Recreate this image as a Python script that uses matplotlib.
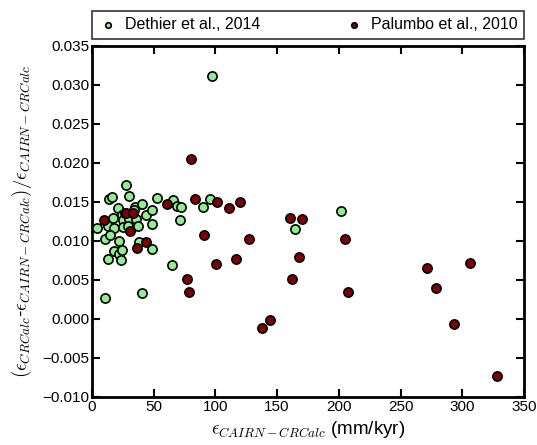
import matplotlib
matplotlib.use("Agg")
import matplotlib.pyplot as plt

plt.rcParams['font.family'] = ['Liberation Sans', 'DejaVu Sans']
plt.rcParams['mathtext.fontset'] = 'cm'

dethier_x = [3.8, 10.5, 13.2, 16.8, 14.0, 16.2, 17.8, 14.6, 22.1, 12.7,
             18.1, 22.1, 23.3, 24.6, 27.3, 30.2, 21.3, 24.1, 25.4, 26.7,
             25.4, 30.2, 32.2, 29.4, 34.8, 34.3, 35.7, 37.5, 40.3, 43.8,
             48.4, 48.9, 38.3, 48.4, 40.8, 10.5, 52.4, 65.4, 68.6, 71.9,
             71.3, 64.6, 89.7, 95.6, 97.0, 164.3, 202.0]
dethier_y = [0.0116, 0.0102, 0.0119, 0.0129, 0.0154, 0.0156, 0.0116, 0.0108, 0.0100, 0.0077,
             0.0087, 0.0083, 0.0076, 0.0088, 0.0172, 0.0158, 0.0142, 0.0133, 0.0127, 0.0136,
             0.0118, 0.0128, 0.0118, 0.0119, 0.0144, 0.0140, 0.0128, 0.0119, 0.0147, 0.0133,
             0.0140, 0.0122, 0.0099, 0.0090, 0.0033, 0.0027, 0.0155, 0.0153, 0.0145, 0.0143,
             0.0127, 0.0069, 0.0144, 0.0154, 0.0311, 0.0115, 0.0138]

palumbo_x = [10.0, 27.3, 33.5, 30.8, 36.2, 43.5, 61.0, 80.2, 83.5, 90.8,
             101.1, 111.0, 120.3, 100.5, 116.7, 76.7, 78.6, 127.5, 160.5, 170.4,
             205.3, 168.0, 162.1, 207.1, 138.0, 144.5, 271.2, 279.0, 293.1, 305.8,
             328.4]
palumbo_y = [0.0127, 0.0136, 0.0136, 0.0113, 0.0091, 0.0099, 0.0147, 0.0205, 0.0154, 0.0108,
             0.0150, 0.0142, 0.0150, 0.0071, 0.0077, 0.0051, 0.0035, 0.0103, 0.0129, 0.0128,
             0.0103, 0.0079, 0.0051, 0.0034, -0.0012, -0.0001, 0.0065, 0.0039, -0.0007, 0.0072,
             -0.0073]

xticks = [0, 50, 100, 150, 200, 250, 300, 350]
yticks = [-0.010, -0.005, 0.000, 0.005, 0.010, 0.015, 0.020, 0.025, 0.030, 0.035]

fig = plt.figure(figsize=(5.37, 4.45), dpi=100)
ax = fig.add_axes([0.171, 0.108, 0.805, 0.789])

ax.scatter(dethier_x, dethier_y, s=44, c='#90ee90', edgecolors='black',
           linewidths=1.2, label='Dethier et al., 2014', zorder=3)
ax.scatter(palumbo_x, palumbo_y, s=44, c='#800000', edgecolors='black',
           linewidths=1.2, label='Palumbo et al., 2010', zorder=3)

ax.set_xlim(0, 350)
ax.set_ylim(-0.010, 0.035)
ax.set_xticks(xticks)
ax.set_yticks(yticks)
ax.set_yticklabels([f"{v:.3f}".replace('-', '\u2212') for v in yticks])
ax.tick_params(direction='in', top=True, right=True, length=6, width=1.5,
               labelsize=11, pad=2)
for sp in ax.spines.values():
    sp.set_linewidth(2)

ax.set_xlabel(r'$\epsilon_{CAIRN-CRCalc}$ (mm/kyr)', fontsize=13.5, labelpad=4)
ax.set_ylabel(r'$(\epsilon_{CRCalc}$-$\epsilon_{CAIRN-CRCalc})/\epsilon_{CAIRN-CRCalc}$',
              fontsize=13.5, labelpad=6)

leg = ax.legend(loc='lower left', bbox_to_anchor=(0, 1.02, 1, 0.08), mode='expand',
                ncol=2, fontsize=11.5, frameon=True, fancybox=False,
                markerscale=0.6, handlelength=1.2, handletextpad=0.5,
                borderaxespad=0, scatterpoints=1)
leg.get_frame().set_edgecolor('black')
leg.get_frame().set_linewidth(1.2)

fig.savefig('out.png', dpi=100)
